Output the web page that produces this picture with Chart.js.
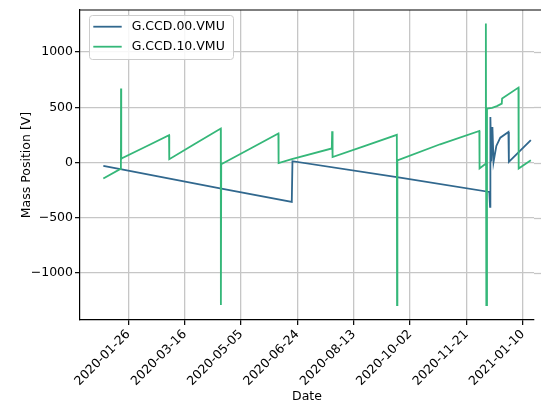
<!DOCTYPE html>
<html>
<head>
<meta charset="utf-8">
<script src="https://cdn.jsdelivr.net/npm/chart.js@4/dist/chart.umd.min.js"></script>
<style>
html,body{margin:0;padding:0;background:#fff;overflow:hidden}
canvas{display:block}
</style>
</head>
<body>
<canvas id="c" width="541" height="404" style="width:541px;height:404px"></canvas>
<script>
// x values are days since 2020-01-01 (UTC)
const seriesNames = ['G.CCD.00.VMU', 'G.CCD.10.VMU'];

const blueDays   = [2.8, 19.1, 106.4, 170.0, 170.6, 266.1, 345.3, 345.9, 346.2, 347.0, 348.0, 349.0, 351.5, 355.0, 362.2, 362.6, 382.1];
const blueValues = [-31, -63, -235, -356, 12, -136, -266, -401, 412, 10, 320, 5, 150, 225, 277, 5, 202];

const greenDays   = [2.8, 17.6, 18.4, 18.5, 18.7, 19.4, 39.8, 61.1, 61.3, 84.2, 107.0, 107.1, 107.4, 133.0, 158.1, 158.3, 170.0, 205.5, 205.8, 206.2, 235.0, 263.2, 263.4, 263.7, 301.6, 336.4, 336.6, 341.5, 342.2, 342.6, 343.2, 347.7, 352.0, 356.3, 356.6, 371.1, 371.3, 382.1];
const greenValues = [-145, -60, -55, 669, 30, 40, 140, 247, 30, 170, 307, -1290, -15, 125, 262, -5, 30, 127, 283, 50, 150, 250, -1290, 20, 165, 286, -54, -15, 1257, -1290, 488, 495, 510, 533, 579, 678, -54, 20];

const dateTickLabels = ['2020-01-26', '2020-03-16', '2020-05-05', '2020-06-24', '2020-08-13', '2020-10-02', '2020-11-21', '2021-01-10'];
const valueTicks = [-1000, -500, 0, 500, 1000];

const seriesColors = ['#31688e', '#35b779'];
const FONT = "'DejaVu Sans', sans-serif";
const GRID = '#c6c6c6';

const EPOCH = Date.parse('2020-01-01T00:00:00Z');
const dayOf = s => (Date.parse(s + 'T00:00:00Z') - EPOCH) / 86400000;
const dateTickDays = dateTickLabels.map(dayOf);

const toPoints = (xs, ys) => xs.map((x, i) => ({x: x, y: ys[i]}));

const extras = {
  id: 'extras',
  afterDraw(chart) {
    const {ctx, chartArea: a, width} = chart;
    const ys = chart.scales.y;
    ctx.save();
    // horizontal grid continues to the canvas edge (axes cropped at right)
    ctx.strokeStyle = GRID;
    ctx.lineWidth = 1.3;
    ys.ticks.forEach(t => {
      const py = Math.round(ys.getPixelForValue(t.value)) + 0.5;
      ctx.beginPath(); ctx.moveTo(a.right, py); ctx.lineTo(width, py); ctx.stroke();
    });
    // top spine
    ctx.strokeStyle = '#000';
    ctx.lineWidth = 1.2;
    ctx.beginPath(); ctx.moveTo(a.left, a.top); ctx.lineTo(width, a.top); ctx.stroke();

    // legend
    const bx = 89.5, by = 15.5, bw = 144, bh = 44, r = 3;
    ctx.beginPath();
    ctx.moveTo(bx + r, by);
    ctx.lineTo(bx + bw - r, by); ctx.quadraticCurveTo(bx + bw, by, bx + bw, by + r);
    ctx.lineTo(bx + bw, by + bh - r); ctx.quadraticCurveTo(bx + bw, by + bh, bx + bw - r, by + bh);
    ctx.lineTo(bx + r, by + bh); ctx.quadraticCurveTo(bx, by + bh, bx, by + bh - r);
    ctx.lineTo(bx, by + r); ctx.quadraticCurveTo(bx, by, bx + r, by);
    ctx.closePath();
    ctx.fillStyle = 'rgba(255,255,255,0.85)';
    ctx.fill();
    ctx.strokeStyle = '#cccccc';
    ctx.lineWidth = 1;
    ctx.stroke();
    ctx.font = '12.5px ' + FONT;
    ctx.textBaseline = 'middle';
    ctx.textAlign = 'left';
    chart.data.datasets.forEach((ds, i) => {
      const ly = 26.7 + i * 20;
      ctx.strokeStyle = ds.borderColor;
      ctx.lineWidth = 1.8;
      ctx.beginPath(); ctx.moveTo(93.3, ly); ctx.lineTo(121.7, ly); ctx.stroke();
      ctx.fillStyle = '#000';
      ctx.fillText(ds.label, 131.7, ly + 0.5);
    });
    ctx.restore();
  }
};

new Chart(document.getElementById('c'), {
  type: 'line',
  data: {
    datasets: [
      {label: seriesNames[0], data: toPoints(blueDays, blueValues), borderColor: seriesColors[0], backgroundColor: seriesColors[0], borderWidth: 1.8, pointRadius: 0, tension: 0, fill: false, order: 1},
      {label: seriesNames[1], data: toPoints(greenDays, greenValues), borderColor: seriesColors[1], backgroundColor: seriesColors[1], borderWidth: 1.8, pointRadius: 0, tension: 0, fill: false, order: 0}
    ]
  },
  options: {
    responsive: false,
    animation: false,
    devicePixelRatio: 1,
    layout: {padding: {left: 0, top: 10, right: 7, bottom: 0}},
    plugins: {legend: {display: false}, tooltip: {enabled: false}},
    scales: {
      x: {
        type: 'linear',
        min: -17.9,
        max: 384.9,
        afterBuildTicks: s => { s.ticks = dateTickDays.map(v => ({value: v})); },
        afterFit: s => { s.height = 84; },
        ticks: {
          autoSkip: false, minRotation: 45, maxRotation: 45, padding: 2,
          color: '#000', font: {family: FONT, size: 12.5},
          callback: (v, i) => dateTickLabels[i]
        },
        grid: {color: GRID, lineWidth: 1.3, drawTicks: true, tickLength: 5, tickColor: '#000', tickWidth: 1.2},
        border: {display: true, color: '#000', width: 1.2},
        title: {display: true, text: 'Date', color: '#000', font: {family: FONT, size: 12.5}, padding: {top: 0, bottom: 0}}
      },
      y: {
        type: 'linear',
        min: -1425,
        max: 1380,
        afterBuildTicks: s => { s.ticks = valueTicks.map(v => ({value: v})); },
        afterFit: s => { s.width = 80; },
        ticks: {
          padding: 2, color: '#000', font: {family: FONT, size: 12.5},
          callback: v => v < 0 ? '\u2212' + Math.abs(v) : String(v)
        },
        grid: {color: GRID, lineWidth: 1.3, drawTicks: true, tickLength: 5, tickColor: '#000', tickWidth: 1.2},
        border: {display: true, color: '#000', width: 1.2},
        title: {display: true, text: 'Mass Position [V]', color: '#000', font: {family: FONT, size: 12.5}, padding: {top: 19, bottom: 0}}
      }
    }
  },
  plugins: [extras]
});
</script>
</body>
</html>
